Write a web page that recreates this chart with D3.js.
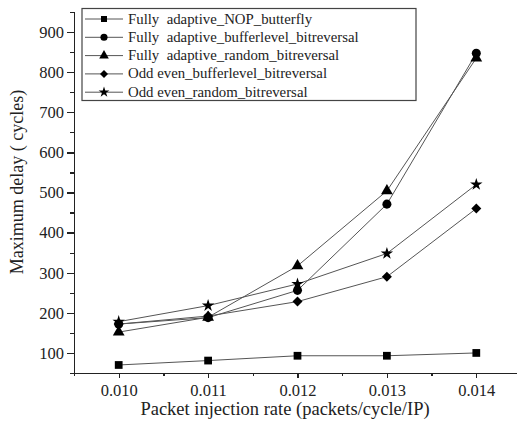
<!DOCTYPE html>
<html lang="en">
<head>
<meta charset="utf-8">
<title>Maximum delay</title>
<style>
  body { margin: 0; background: white; }
  svg { display: block; overflow: hidden; }
  .axis path, .axis line { fill: none; stroke: #222; stroke-width: 1.3; shape-rendering: crispEdges; }
  .series { fill: none; stroke: #555; stroke-width: 1; }
  .legend text { font-size: 14.8px; fill: #222; white-space: pre; }
</style>
</head>
<body>
<script src="https://cdnjs.cloudflare.com/ajax/libs/d3/7.8.5/d3.min.js"></script>
<script>
// data
var rates = [0.010, 0.011, 0.012, 0.013, 0.014];
var seriesNames = [
  "Fully  adaptive_NOP_butterfly",
  "Fully  adaptive_bufferlevel_bitreversal",
  "Fully  adaptive_random_bitreversal",
  "Odd even_bufferlevel_bitreversal",
  "Odd even_random_bitreversal"
];
var nopButterfly      = [70, 81, 93, 93, 100];
var faBufferlevel     = [172, 188, 256, 471, 847];
var faRandom          = [152, 189, 317, 504, 835];
var oeBufferlevel     = [172, 192, 228, 290, 460];
var oeRandom          = [178, 218, 272, 348, 520];
var yMajorTicks = [100, 200, 300, 400, 500, 600, 700, 800, 900];
var yMinorTicks = [50, 150, 250, 350, 450, 550, 650, 750, 850, 950];
var xMajorTicks = [0.010, 0.011, 0.012, 0.013, 0.014];
var xMinorTicks = [0.0095, 0.0105, 0.0115, 0.0125, 0.0135, 0.0145];

var allSeries = [nopButterfly, faBufferlevel, faRandom, oeBufferlevel, oeRandom];
var symbols = ["square", "circle", "triangle", "diamond", "star"];
var serif = "'Liberation Serif', 'DejaVu Serif', serif";

var fullWidth = 517, fullHeight = 428;
var margin = {top: 12, left: 74};
var plotW = 447, plotH = 361;

var svg = d3.select("body").append("svg")
  .attr("width", fullWidth)
  .attr("height", fullHeight)
  .attr("font-family", serif);

var g = svg.append("g")
  .attr("transform", "translate(" + margin.left + "," + margin.top + ")");

var xScale = d3.scaleLinear().domain([0.0095, 0.0145]).range([0, plotW]);
var yScale = d3.scaleLinear().domain([50, 950]).range([plotH, 0]);

function symbolPath(kind, s) {
  var t = {square: d3.symbolSquare, circle: d3.symbolCircle, triangle: d3.symbolTriangle,
           diamond: d3.symbolSquare, star: d3.symbolStar}[kind];
  return d3.symbol().type(t).size(s)();
}

// axes
g.append("g").attr("class", "axis")
  .call(d3.axisLeft(yScale).tickValues(yMinorTicks).tickSize(4).tickFormat(""));
g.append("g").attr("class", "axis")
  .call(d3.axisLeft(yScale).tickValues(yMajorTicks).tickSize(7).tickSizeOuter(0).tickPadding(3));

g.append("g").attr("class", "axis")
  .attr("transform", "translate(0," + plotH + ")")
  .call(d3.axisBottom(xScale).tickValues(xMinorTicks).tickSize(3).tickFormat(""));
g.append("g").attr("class", "axis")
  .attr("transform", "translate(0," + plotH + ")")
  .call(d3.axisBottom(xScale).tickValues(xMajorTicks).tickSize(5).tickSizeOuter(0)
        .tickPadding(6).tickFormat(d3.format(".3f")));

svg.selectAll(".axis").attr("font-family", serif).attr("font-size", 16.5);
svg.selectAll(".axis text").attr("fill", "#222");

// lines
var line = d3.line()
  .x(function(d, i) { return xScale(rates[i]); })
  .y(function(d) { return yScale(d); });

allSeries.forEach(function(vals, k) {
  g.append("path").attr("class", "series").attr("d", line(vals));
});

var sizes = {square: 60, circle: 64, triangle: 60, diamond: 50, star: 48};
allSeries.forEach(function(vals, k) {
  g.selectAll(".m" + k)
    .data(vals).enter()
    .append("path")
    .attr("d", symbolPath(symbols[k], sizes[symbols[k]]))
    .attr("transform", function(d, i) {
      return "translate(" + xScale(rates[i]) + "," + yScale(d) + ")" +
        (symbols[k] === "diamond" ? " rotate(45)" : "");
    })
    .attr("fill", "#000");
});

// legend
var legend = svg.append("g").attr("class", "legend");
legend.append("rect")
  .attr("x", 82).attr("y", 8.5).attr("width", 334).attr("height", 92)
  .attr("fill", "white").attr("stroke", "#444").attr("stroke-width", 1.2);

seriesNames.forEach(function(name, k) {
  var y = 19 + k * 18.3;
  legend.append("line").attr("x1", 85).attr("x2", 123).attr("y1", y).attr("y2", y)
    .attr("stroke", "#555").attr("stroke-width", 1);
  var s = {square: 36, circle: 40, triangle: 40, diamond: 32, star: 36}[symbols[k]];
  legend.append("path").attr("d", symbolPath(symbols[k], s))
    .attr("transform", "translate(104," + y + ")" + (symbols[k] === "diamond" ? " rotate(45)" : ""))
    .attr("fill", "#000");
  legend.append("text").attr("x", 128).attr("y", y + 4.5).text(name);
});

// axis titles
svg.append("text")
  .attr("x", 285).attr("y", 415)
  .attr("text-anchor", "middle").attr("font-size", 18.5).attr("fill", "#222")
  .text("Packet injection rate (packets/cycle/IP)");

svg.append("text")
  .attr("transform", "translate(23,182) rotate(-90)")
  .attr("text-anchor", "middle").attr("font-size", 18).attr("fill", "#222")
  .text("Maximum delay ( cycles)");
</script>
</body>
</html>
